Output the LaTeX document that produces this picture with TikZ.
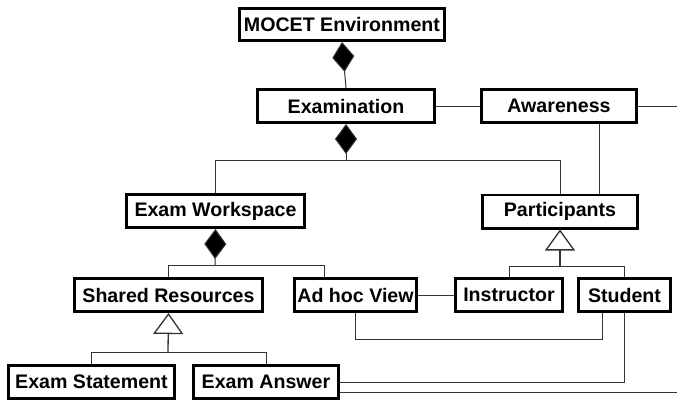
\documentclass[tikz,border=0pt]{standalone}
\usepackage{fontspec}
\setmainfont{Liberation Sans}
\usetikzlibrary{arrows.meta}
\begin{document}
\begin{tikzpicture}[x=1pt,y=-1pt,
  cls/.style={draw, line width=2.6pt, font=\bfseries\fontsize{19.6}{22}\selectfont,
              inner sep=0pt, minimum height=33.4pt},
  link/.style={draw=black!80, line width=1pt},
  comp/.style={link, -{Diamond[width=22pt,length=30pt,fill=black]}},
  gen/.style={link, line width=1.3pt, -{Triangle[open,width=30pt,length=21pt,fill=white]}}]
\useasboundingbox (0,0) rectangle (677,400);
\clip (0,0) rectangle (677,400);

% classes
\node[cls, minimum width=205.4pt, minimum height=32.4pt] (env) at (342,24.5) {MOCET Environment};
\node[cls, minimum width=177.4pt] (exam)    at (346,106)   {Examination};
\node[cls, minimum width=155.4pt] (aware)   at (559,106)   {Awareness};
\node[cls, minimum width=178.4pt] (ws)      at (215.5,211) {Exam Workspace};
\node[cls, minimum width=155.4pt] (part)    at (560,211.5) {Participants};
\node[cls, minimum width=188.4pt] (shared)  at (168.5,295) {Shared Resources};
\node[cls, minimum width=122.4pt] (adhoc)   at (355.5,295) {Ad hoc View};
\node[cls, minimum width=107.4pt] (instr)   at (509,295)   {Instructor};
\node[cls, minimum width=92.4pt]  (student) at (624.5,295) {Student};
\node[cls, minimum width=166.4pt] (stmt)    at (91.5,382)  {Exam Statement};
\node[cls, minimum width=145.4pt] (answer)  at (266,382)   {Exam Answer};

% routing points
\coordinate (j1) at (346,160);
\coordinate (j2) at (215,265);
\coordinate (j3) at (560,266);
\coordinate (j4) at (168,352);
\coordinate (ap) at (599,0);
\coordinate (ah) at (324,0);
\coordinate (sb) at (602,339);
\coordinate (outR) at (677,106);
\coordinate (outB) at (677,392);

% composition
\draw[comp] (exam.north) -- (env.south);
\draw[link] (ws.north) |- (j1);
\draw[link] (part.north) |- (j1);
\draw[comp] (j1) -- (exam.south);
\draw[link] (shared.north) |- (j2);
\draw[link] (adhoc.north -| ah) |- (j2);
\draw[comp] (j2) -- (ws.south);

% generalisation
\draw[link] (instr.north) |- (j3);
\draw[link] (student.north) |- (j3);
\draw[gen] (j3) -- (part.south);
\draw[link] (stmt.north) |- (j4);
\draw[link] (answer.north) |- (j4);
\draw[gen] (j4) -- (shared.south);

% associations
\draw[link] (exam.east) -- (aware.west);
\draw[link] (aware.east) -- (outR);
\draw[link] (aware.south -| ap) -- (part.north -| ap);
\draw[link] (adhoc.east) -- (instr.west);
\draw[link] (adhoc.south) |- (sb) -- (sb |- student.south);
\draw[link] (student.south) |- (answer.east);
\draw[link] (answer.east |- outB) -- (outB);
\end{tikzpicture}
\end{document}
